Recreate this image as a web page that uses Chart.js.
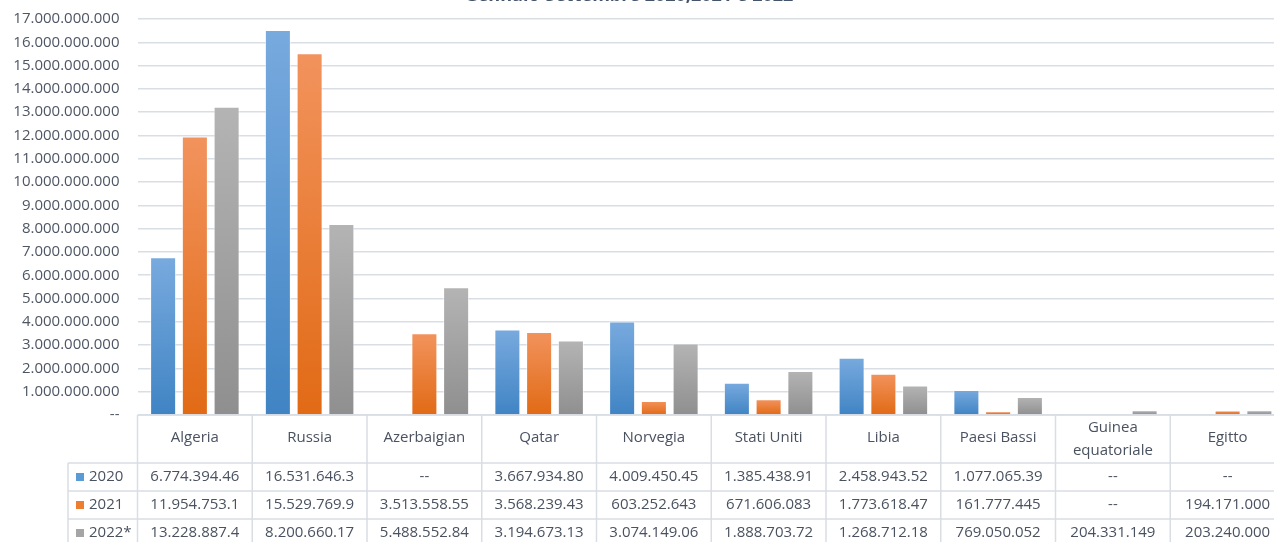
<!DOCTYPE html>
<html>
<head>
<meta charset="utf-8">
<script src="https://cdn.jsdelivr.net/npm/chart.js@4.4.1/dist/chart.umd.min.js"></script>
<style>
    html, body { margin: 0; padding: 0; background: #fff; overflow: hidden; }
    #wrap { width: 1274px; height: 542px; overflow: hidden; position: relative; }
    #chart { display: block; }
</style>
</head>
<body>
<div id="wrap"><canvas id="chart" width="1285" height="542"></canvas></div>
<script>
// Data
const categories = ['Algeria', 'Russia', 'Azerbaigian', 'Qatar', 'Norvegia', 'Stati Uniti', 'Libia', 'Paesi Bassi', ['Guinea', 'equatoriale'], 'Egitto'];
const seriesNames = ['2020', '2021', '2022*'];

const values2020 = [6774394460, 16531646300, null, 3667934800, 4009450450, 1385438910, 2458943520, 1077065390, null, null];
const values2021 = [11954753100, 15529769900, 3513558550, 3568239430, 603252643, 671606083, 1773618470, 161777445, null, 194171000];
const values2022 = [13228887400, 8200660170, 5488552840, 3194673130, 3074149060, 1888703720, 1268712180, 769050052, 204331149, 203240000];

// Text of the data table (as printed)
const table2020 = ['6.774.394.46', '16.531.646.3', '--', '3.667.934.80', '4.009.450.45', '1.385.438.91', '2.458.943.52', '1.077.065.39', '--', '--'];
const table2021 = ['11.954.753.1', '15.529.769.9', '3.513.558.55', '3.568.239.43', '603.252.643', '671.606.083', '1.773.618.47', '161.777.445', '--', '194.171.000'];
const table2022 = ['13.228.887.4', '8.200.660.17', '5.488.552.84', '3.194.673.13', '3.074.149.06', '1.888.703.72', '1.268.712.18', '769.050.052', '204.331.149', '203.240.000'];

const yMax = 17000000000;
const yStep = 1000000000;
const titleText = 'Gennaio-Settembre 2020,2021 e 2022';

const FONT = "'Open Sans', 'DejaVu Sans', sans-serif";
const GRID = '#d9dde4';

// per-bar vertical gradient like the Excel fill
function barFill(top, bottom) {
    return function(ctx) {
        if (ctx.type !== 'data' || ctx.raw == null) return bottom;
        const chart = ctx.chart;
        const y = chart.scales.y;
        if (!y || !chart.chartArea) return bottom;
        const yTop = y.getPixelForValue(ctx.raw);
        const yBot = y.getPixelForValue(0);
        if (yBot - yTop < 1) return bottom;
        const g = chart.ctx.createLinearGradient(0, yTop, 0, yBot);
        g.addColorStop(0, top);
        g.addColorStop(1, bottom);
        return g;
    };
}

const swatches = ['#5b9bd5', '#ed7d31', '#a5a5a5'];

const tablePlugin = {
    id: 'dataTable',
    afterDraw(chart) {
        const c = chart.ctx;
        const x = chart.scales.x;
        const area = chart.chartArea;
        const colW = (area.right - area.left) / categories.length;
        const top = area.bottom;
        const headBottom = top + 48;
        const rowH = 28;
        const legendLeft = 68;
        const rows = [table2020, table2021, table2022];

        c.save();
        c.strokeStyle = GRID;
        c.lineWidth = 1.5;
        // horizontal lines
        c.beginPath();
        c.moveTo(area.left, top); c.lineTo(area.right, top);
        for (let r = 0; r <= rows.length; r++) {
            const yy = headBottom + r * rowH;
            c.moveTo(legendLeft, yy); c.lineTo(area.right, yy);
        }
        // vertical lines
        for (let i = 0; i <= categories.length; i++) {
            const xx = area.left + i * colW;
            c.moveTo(xx, top); c.lineTo(xx, headBottom + rows.length * rowH);
        }
        c.moveTo(legendLeft, headBottom); c.lineTo(legendLeft, headBottom + rows.length * rowH);
        c.stroke();

        // header labels
        c.fillStyle = '#4a5260';
        c.font = '15px ' + FONT;
        c.textAlign = 'center';
        c.textBaseline = 'middle';
        categories.forEach((label, i) => {
            const cx = x.getPixelForValue(i);
            if (Array.isArray(label)) {
                c.fillText(label[0], cx, top + 13);
                c.fillText(label[1], cx, top + 36);
            } else {
                c.fillText(label, cx, (top + headBottom) / 2 - 1);
            }
        });

        // rows
        rows.forEach((row, r) => {
            const cy = headBottom + r * rowH + rowH / 2;
            c.fillStyle = swatches[r];
            c.fillRect(76, cy - 4, 8, 8);
            c.fillStyle = '#4a5260';
            c.textAlign = 'left';
            c.fillText(seriesNames[r], 89, cy);
            c.textAlign = 'center';
            row.forEach((txt, i) => {
                c.fillText(txt, x.getPixelForValue(i), cy);
            });
        });

        // title, mostly cut off at the top edge
        c.fillStyle = '#44546a';
        c.font = 'bold 18px ' + FONT;
        c.textAlign = 'center';
        c.textBaseline = 'alphabetic';
        c.fillText(titleText, 629, 1);
        c.restore();
    }
};

new Chart(document.getElementById('chart'), {
    type: 'bar',
    data: {
        labels: categories,
        datasets: [
            {
                label: seriesNames[0],
                data: values2020,
                backgroundColor: barFill('#78aade', '#4084c4'),
                borderColor: 'rgba(255,255,255,0.55)',
                borderWidth: 1
            },
            {
                label: seriesNames[1],
                data: values2021,
                backgroundColor: barFill('#f2935d', '#e16a15'),
                borderColor: 'rgba(255,255,255,0.55)',
                borderWidth: 1
            },
            {
                label: seriesNames[2],
                data: values2022,
                backgroundColor: barFill('#b4b4b4', '#8f8f8f'),
                borderColor: 'rgba(255,255,255,0.55)',
                borderWidth: 1
            }
        ]
    },
    options: {
        responsive: false,
        animation: false,
        devicePixelRatio: 1,
        layout: {
            padding: { top: 19, bottom: 127, left: 0, right: 0 }
        },
        datasets: {
            bar: {
                categoryPercentage: 0.83,
                barPercentage: 0.82
            }
        },
        plugins: {
            legend: { display: false },
            title: { display: false },
            tooltip: { enabled: false }
        },
        scales: {
            x: {
                display: false
            },
            y: {
                min: 0,
                max: yMax,
                border: { display: false },
                grid: {
                    color: GRID,
                    lineWidth: 1.5,
                    drawTicks: false
                },
                ticks: {
                    stepSize: yStep,
                    padding: 18,
                    color: '#4e5664',
                    font: { family: FONT, size: 15 },
                    callback: function(value) {
                        if (value === 0) return '--';
                        return String(value).replace(/\B(?=(\d{3})+(?!\d))/g, '.');
                    }
                },
                afterFit: function(scale) {
                    scale.width = 137.5;
                    scale.paddingTop = 0;
                    scale.paddingBottom = 0;
                }
            }
        }
    },
    plugins: [tablePlugin]
});
</script>
</body>
</html>
